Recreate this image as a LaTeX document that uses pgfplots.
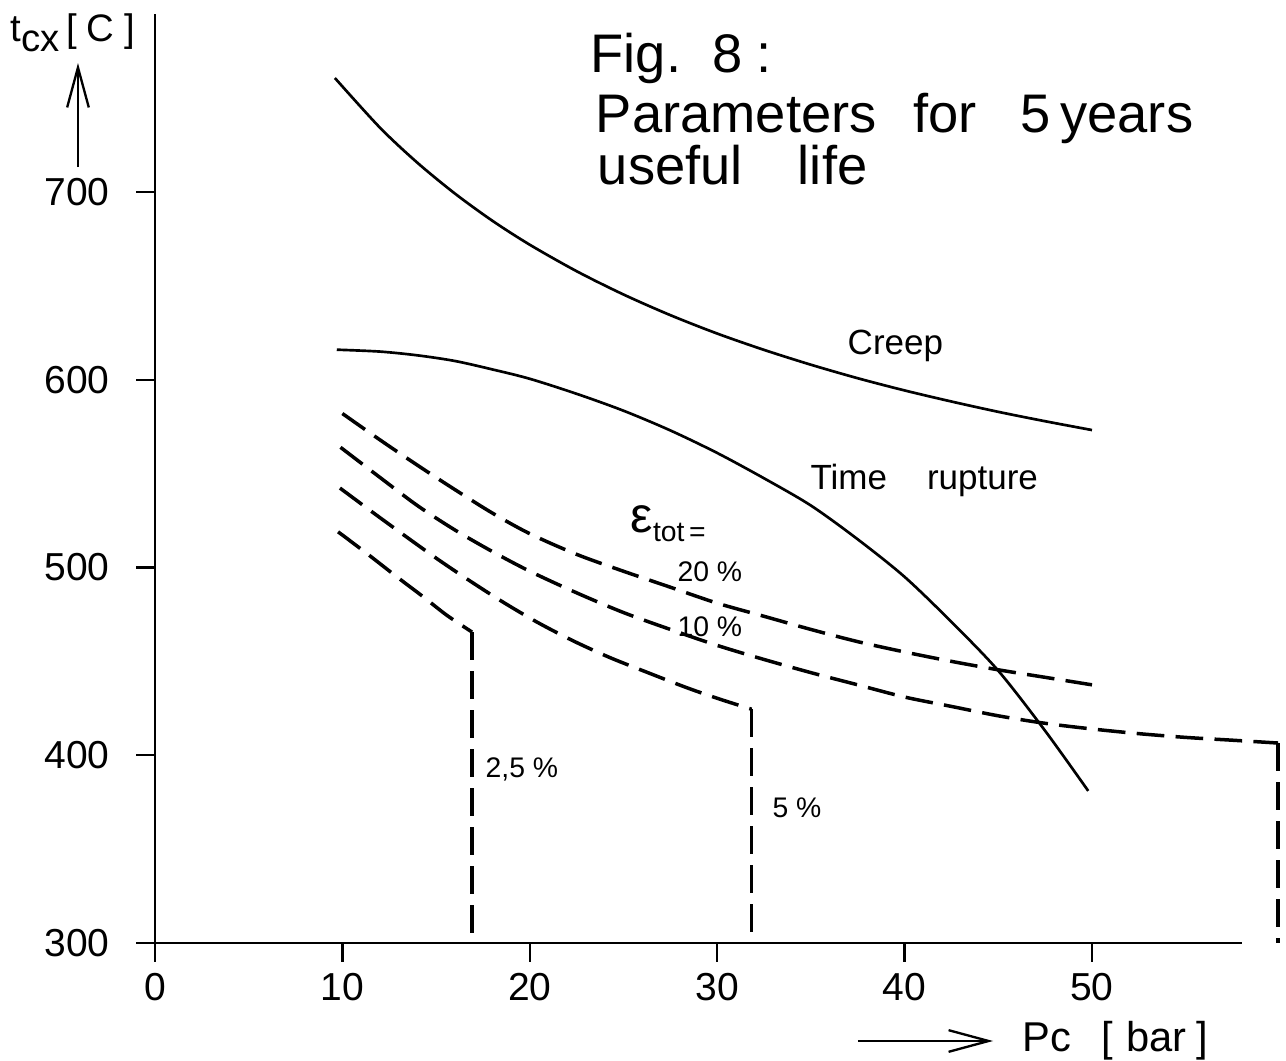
\documentclass[border=0pt]{standalone}
\usepackage{pgfplots}
\pgfplotsset{compat=1.18}
\usepackage{fontspec}
\setmainfont{Liberation Sans}
\usetikzlibrary{arrows.meta}
\begin{document}
\begin{tikzpicture}
\begin{axis}[
  at={(0,0)}, anchor=south west,
  x=5.622pt, y=0.56325pt,
  xmin=0, xmax=58, ymin=300, ymax=795,
  axis x line=bottom, axis y line=left,
  axis line style={-, line width=0.7pt},
  every tick/.style={black, line width=0.7pt},
  major tick length=5.6pt, tick align=outside,
  xtick={0,10,20,30,40,50}, ytick={300,400,500,600,700},
  minor tick num=0,
  /pgf/number format/assume math mode=true,
  ticklabel style={font=\fontsize{11.7}{14}\selectfont},
  yticklabel style={anchor=east, xshift=-4.5pt},
  xticklabel style={anchor=north},
  clip=false,
]
% Creep
\addplot[black, line width=0.8pt, smooth] coordinates {
 (9.6,760.7) (12,734.3) (14,715.6) (16,699.2) (18,684.7) (20,671.9)
 (22.5,657.8) (25,645.4) (27.5,634.4) (30,624.6) (32.5,615.9) (35,608.0)
 (37.5,600.8) (40,594.3) (42.5,588.4) (45,582.9) (47.5,577.9) (50,573.2)};
% Time rupture
\addplot[black, line width=0.8pt, smooth] coordinates {
 (9.7,616) (12,615) (14,613) (16,610) (18,605.5) (20,600.5) (22.5,592.5)
 (25,583.5) (27.5,573) (30,561) (32.5,547.5) (35,533) (37.5,515) (40,495)
 (42.5,471) (45,445) (47.5,413) (49.8,381)};
% 20 %
\addplot[black, line width=1.05pt, dash pattern=on 8.3pt off 3.4pt, smooth] coordinates {
 (10,582) (12,568) (14,554.5) (16,541.5) (18,529) (20,518) (22.5,507)
 (25,498) (27.5,489.5) (30,481) (32.5,474) (35,467) (37.5,460.5) (40,455)
 (42.5,450) (45,445.5) (47.5,441.5) (50,437.5)};
% 10 %
\addplot[black, line width=1.05pt, dash pattern=on 8.3pt off 3.4pt, smooth] coordinates {
 (9.9,564) (12,548) (14,533) (16,520) (18,508.5) (20,498) (22.5,486.5)
 (25,476) (27.5,467) (30,458.5) (32.5,451) (35,444) (37.5,437.5) (40,431)
 (42.5,426) (45,421) (47.5,417) (50,414) (52.5,411.5) (55,409.5) (57.5,408) (59.93,406.5)};
\addplot[black, line width=1.05pt, dash pattern=on 8.3pt off 3.4pt] coordinates {
 (59.93,406.5) (59.93,300)};
% 5 %
\addplot[black, line width=1.05pt, dash pattern=on 8.3pt off 3.4pt, smooth] coordinates {
 (9.87,542.3) (11.6,529.5) (13.25,517.5) (15,505) (16.63,494) (18.5,482)
 (20.37,471) (22.3,461) (24.28,452) (26.3,444) (28.37,436) (30.1,430) (31.84,424.5)};
\addplot[black, line width=1.05pt, dash pattern=on 8.3pt off 3.4pt] coordinates {
 (31.84,424.5) (31.84,300)};
% 2,5 %
\addplot[black, line width=1.05pt, dash pattern=on 8.3pt off 3.4pt, smooth] coordinates {
 (9.77,519) (11.3,507.5) (12.91,495) (14.3,484.5) (15.58,474.5) (16.92,465.6)};
\addplot[black, line width=1.05pt, dash pattern=on 8.3pt off 3.4pt] coordinates {
 (16.92,465.6) (16.92,300)};

% title (one block)
\node[anchor=north west, inner sep=0pt, align=left,
      font={\fontsize{16.3}{15.6}\selectfont\lineskiplimit=-30pt}]
  at (axis cs:23.21,785.1)
  {Fig.\hspace{9.5pt}8\hspace{4pt}:\\[2.4pt]
   \hspace*{1.6pt}Parameters\hspace{11pt}for\hspace{13pt}5\hspace{3pt}years\\
   \hspace*{2.2pt}useful\hspace{16.5pt}life};

% curve labels
\node[anchor=base west, inner sep=0pt, font=\fontsize{10.5}{12}\selectfont] at (axis cs:36.93,613.2) {Creep};
\node[anchor=base west, inner sep=0pt, font=\fontsize{10.5}{12}\selectfont] at (axis cs:34.95,541.8) {Time\hspace{12pt}rupture};
\node[anchor=base west, inner sep=0pt] at (axis cs:25.35,518.4) {{\fontsize{15}{17}\selectfont ε}\raisebox{-2.7pt}{\fontsize{8.5}{10}\selectfont tot\,=}};
\node[anchor=base west, inner sep=0pt, font=\fontsize{8.5}{10}\selectfont] at (axis cs:27.85,492.3) {20 \%};
\node[anchor=base west, inner sep=0pt, font=\fontsize{8.5}{10}\selectfont] at (axis cs:27.85,463.0) {10 \%};
\node[anchor=base west, inner sep=0pt, font=\fontsize{8.5}{10}\selectfont] at (axis cs:17.61,387.9) {2,5 \%};
\node[anchor=base west, inner sep=0pt, font=\fontsize{8.5}{10}\selectfont] at (axis cs:32.92,367.1) {5 \%};

% axis labels
\node[anchor=base west, inner sep=0pt, font=\fontsize{11.5}{13}\selectfont] at (axis cs:-7.74,779.9) {t\raisebox{-3pt}{cx}\hspace{2pt}[\hspace{3pt}C\hspace{3pt}]};
\draw[line width=0.7pt, -{Straight Barb[length=12pt,width=6.5pt]}] (axis cs:-4.11,713.3) -- (axis cs:-4.11,768.7);
\draw[line width=0.7pt, -{Straight Barb[length=12pt,width=6.5pt]}] (axis cs:37.51,247.8) -- (axis cs:44.72,247.8);
\node[anchor=west, inner sep=0pt, font=\fontsize{12.5}{14}\selectfont] at (axis cs:46.27,247.8) {Pc\hspace{9pt}[\hspace{4pt}bar\hspace{3pt}]};
\end{axis}
\pgfresetboundingbox
\path[use as bounding box] (-46.5pt,-35.4pt) rectangle (339.3pt,282.9pt);
\end{tikzpicture}
\end{document}
